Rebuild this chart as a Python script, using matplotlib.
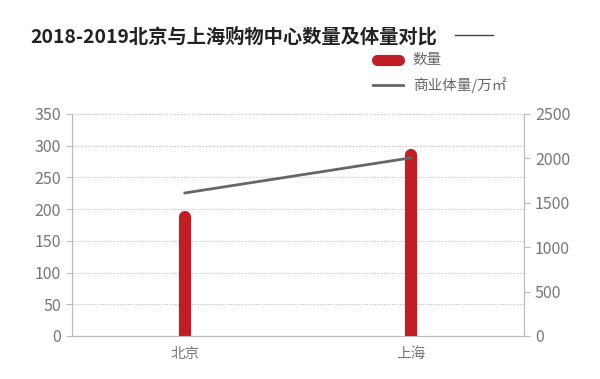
"""
2018-2019 Beijing vs Shanghai shopping mall count and floor area.
"""
import matplotlib
matplotlib.use("Agg")
import matplotlib.pyplot as plt
from matplotlib.lines import Line2D

plt.rcParams['font.family'] = ['Noto Sans CJK SC', 'DejaVu Sans']

cities = ["北京", "上海"]
mall_count = [188, 285]          # 数量
floor_area = [1610, 2005]        # 商业体量/万㎡
left_ticks = [0, 50, 100, 150, 200, 250, 300, 350]
right_ticks = [0, 500, 1000, 1500, 2000, 2500]

RED = "#be1e24"
GREY = "#666666"
TICK = "#777777"
AXIS = "#bbbbbb"

fig = plt.figure(figsize=(6, 3.79), dpi=100)
ax = fig.add_axes([0.12, 0.1135, 0.753, 0.586])
ax2 = ax.twinx()

x = list(range(len(cities)))

# bars drawn as thick lines with rounded caps
for xi, v in zip(x, mall_count):
    ax.plot([xi, xi], [0, v], color=RED, lw=8.8, solid_capstyle='round', zorder=3)

ax2.plot(x, floor_area, color=GREY, lw=2, zorder=4)

ax.set_xlim(-0.5, 1.5)
ax.set_ylim(0, 350)
ax2.set_ylim(0, 2500)
ax.set_yticks(left_ticks)
ax2.set_yticks(right_ticks)
ax.set_xticks(x)
ax.set_xticklabels(cities)

ax.grid(axis='y', color='#bbbbbb', ls=(0, (1, 1.5)), lw=0.8)
ax.set_axisbelow(True)

for a in (ax, ax2):
    for s in a.spines.values():
        s.set_color(AXIS)
        s.set_linewidth(0.8)
    a.spines['top'].set_visible(False)
    a.tick_params(colors=AXIS, labelcolor=TICK, labelsize=11.5, length=4, width=0.8)
ax.tick_params(axis='x', length=0, pad=8, labelsize=10.5)
ax.tick_params(axis='y', pad=4)
ax2.tick_params(axis='y', pad=4)

fig.text(0.05, 0.903, "2018-2019北京与上海购物中心数量及体量对比", fontsize=13.9,
         fontweight='bold', color="#222222", va='center')
fig.add_artist(Line2D([0.758, 0.822], [0.907, 0.907], color="#444444", lw=1))

# legend
fig.add_artist(Line2D([0.628, 0.665], [0.842, 0.842], color=RED, lw=8,
                      solid_capstyle='round'))
fig.text(0.688, 0.842, "数量", fontsize=10.5, color=GREY, va='center')
fig.add_artist(Line2D([0.622, 0.672], [0.776, 0.776], color=GREY, lw=2))
fig.text(0.688, 0.776, "商业体量/万㎡", fontsize=10.5, color=GREY, va='center')

fig.savefig("out.png", dpi=100)
